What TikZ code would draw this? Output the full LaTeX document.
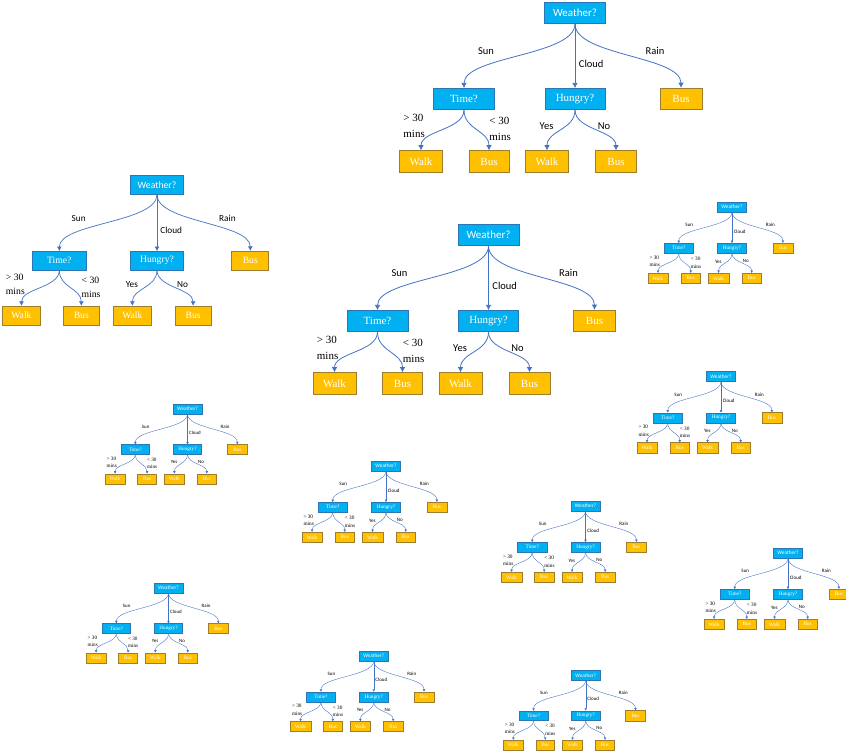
\documentclass[tikz,border=0pt]{standalone}
\usepackage{fontspec}
\setmainfont{Liberation Serif}
\newfontfamily\calib{Carlito}
\usetikzlibrary{arrows.meta}

\definecolor{qblue}{HTML}{00B0F0}
\definecolor{qblueedge}{HTML}{2E75B6}
\definecolor{leaf}{HTML}{FFC000}
\definecolor{leafedge}{HTML}{9C7E2E}
\definecolor{link}{HTML}{4472C4}

\tikzset{
  x=1pt, y=-1pt,
  qbox/.style={draw=qblueedge, fill=qblue, text=white, minimum width=61pt,
    minimum height=21pt, inner sep=0pt, font=\fontsize{11}{13}\selectfont},
  leafbox/.style={draw=leafedge, fill=leaf, text=white, minimum width=42pt,
    minimum height=21.5pt, inner sep=0pt, font=\fontsize{11}{13}\selectfont},
  sanslbl/.style={font=\calib\fontsize{10.5}{12}\selectfont, inner sep=0pt},
  seriflbl/.style={font=\fontsize{11}{15.5}\selectfont, align=left, inner sep=0pt},
  conn/.style={draw=link, -{Latex[length=0pt 6.5, width=0pt 7]}},
  % one decision tree; the argument is its scale (for line widths)
  pics/dtree/.style={code={
    \begin{scope}[line width=#1*0.8pt]
    \node[qbox, font=\calib\fontsize{11}{13}\selectfont] (-w) at (0,0) {Weather?};
    \node[qbox] (-t) at (-111,86) {Time?};
    \node[qbox, minimum width=60pt] (-h) at (0,86) {Hungry?};
    \node[leafbox] (-r) at (106,86) {Bus};
    \node[leafbox, minimum width=43pt] (-tw) at (-154,148.5) {Walk};
    \node[leafbox, minimum width=40pt] (-tb) at (-86,148.5) {Bus};
    \node[leafbox, minimum width=43pt] (-hw) at (-28,148.5) {Walk};
    \node[leafbox, minimum width=41pt] (-hb) at (41,148.5) {Bus};
    \node[sanslbl] (-ls) at (-89,38) {Sun};
    \node[sanslbl, anchor=west] (-lc) at (3.5,51) {Cloud};
    \node[sanslbl] (-lr) at (80,38) {Rain};
    \node[seriflbl, anchor=west] (-lg) at (-172,113) {> 30\\mins};
    \node[seriflbl, anchor=west] (-ll) at (-86,116) {< 30\\mins};
    \node[sanslbl] (-ly) at (-28.5,113.5) {Yes};
    \node[sanslbl] (-ln) at (29,113) {No};
    \draw[conn] (-w.south) .. controls +(0,32) and +(0,-32) .. (-t.north);
    \draw[conn] (-w.south) -- (-h.north);
    \draw[conn] (-w.south) .. controls +(0,32) and +(0,-32) .. (-r.north);
    \draw[conn] (-t.south) .. controls +(0,20) and +(0,-20) .. (-tw.north);
    \draw[conn] (-t.south) .. controls +(0,20) and +(0,-20) .. (-tb.north);
    \draw[conn] (-h.south) .. controls +(0,20) and +(0,-20) .. (-hw.north);
    \draw[conn] (-h.south) .. controls +(0,20) and +(0,-20) .. (-hb.north);
    \end{scope}
  }}
}

\begin{document}
\begin{tikzpicture}
\useasboundingbox (0,0) rectangle (846,750);
\clip (0,0) rectangle (846,750);
\fill[white] (0,0) rectangle (846,750);

\pic (t1) [scale=1, transform shape] at (575,13) {dtree=1};
\pic (t2) [scale=0.88, transform shape] at (157,185) {dtree=0.88};
\pic (t3) [scale=1.0, transform shape] at (488.5,235) {dtree=1};
\pic (t4) [scale=0.48, transform shape] at (732,207) {dtree=0.48};
\pic (t5) [scale=0.48, transform shape] at (721,376.5) {dtree=0.48};
\pic (t6) [scale=0.47, transform shape] at (187.5,409) {dtree=0.47};
\pic (t7) [scale=0.48, transform shape] at (386,466) {dtree=0.48};
\pic (t8) [scale=0.48, transform shape] at (585.5,506) {dtree=0.48};
\pic (t9) [scale=0.48, transform shape] at (788,553) {dtree=0.48};
\pic (t10) [scale=0.47, transform shape] at (168.5,588) {dtree=0.47};
\pic (t11) [scale=0.475, transform shape] at (373.7,656) {dtree=0.475};
\pic (t12) [scale=0.47, transform shape] at (585.7,675.3) {dtree=0.47};
\end{tikzpicture}
\end{document}
